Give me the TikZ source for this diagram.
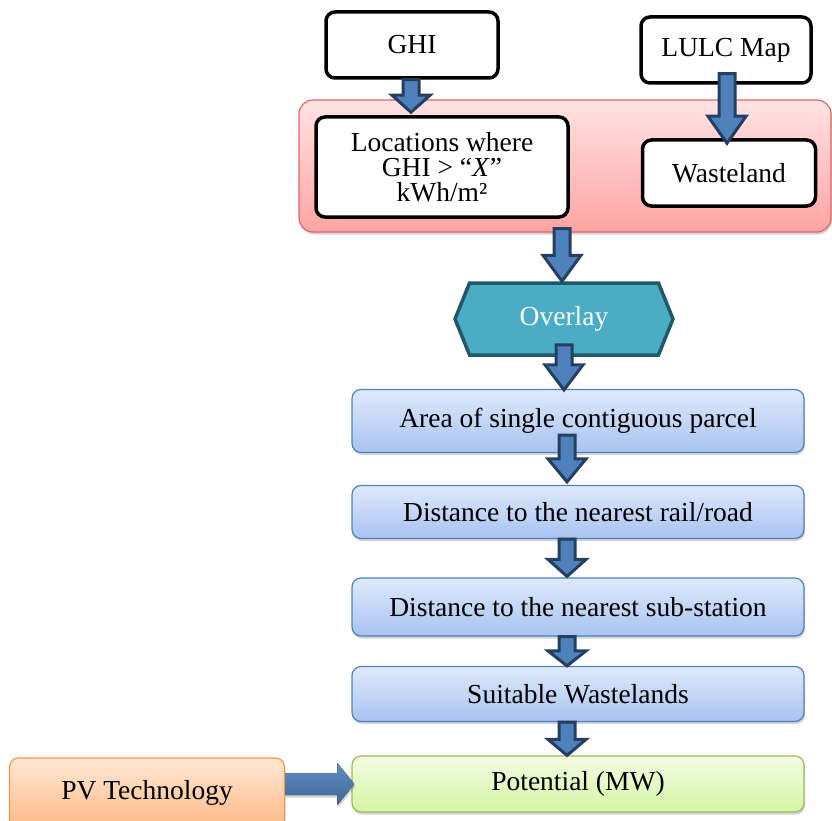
\documentclass[tikz,border=0pt]{standalone}
\usepackage{fontspec}
\setmainfont{Liberation Serif}
\usepackage{xcolor}
\usepackage{tikz}
\usetikzlibrary{calc}
\usetikzlibrary{shapes.symbols}
\usetikzlibrary{shadows}

\definecolor{boxblue}{HTML}{4F81BD}
\definecolor{stagetop}{HTML}{DFE9FB}
\definecolor{stagebottom}{HTML}{A7C3F1}
\definecolor{arrowline}{HTML}{243F60}
\definecolor{overlayfill}{HTML}{4BACC6}
\definecolor{overlayline}{HTML}{215968}
\definecolor{grouptop}{HTML}{FFE3E3}
\definecolor{groupbottom}{HTML}{FFA3A3}
\definecolor{groupline}{HTML}{E06666}
\definecolor{pottop}{HTML}{F4FCE4}
\definecolor{potbottom}{HTML}{D3F5A2}
\definecolor{potline}{HTML}{9BBB59}
\definecolor{pvtop}{HTML}{FFE8D5}
\definecolor{pvbottom}{HTML}{FDB985}
\definecolor{pvline}{HTML}{F79646}

\tikzset{
  inbox/.style={draw, rounded corners=9pt, line width=3.5pt, fill=white, align=center},
  groupbox/.style={draw=groupline, rounded corners=14pt, line width=1.2pt, top color=grouptop, bottom color=groupbottom, drop shadow={shadow xshift=1pt, shadow yshift=-2.5pt, opacity=0.35}},
  stagebox/.style={draw=boxblue, rounded corners=9pt, line width=1.2pt, top color=stagetop, bottom color=stagebottom, minimum width=452pt, drop shadow={shadow xshift=1pt, shadow yshift=-2.5pt, opacity=0.35}},
  flowarrow/.style={fill=boxblue, draw=arrowline, line width=3pt, line join=miter},
}

\newcommand{\flowarrow}[3]{%
  \filldraw[flowarrow] let \p1=#1, \p2=#2 in
    (\x1-8pt,\y1) -- (\x1+8pt,\y1) -- (\x1+8pt,\y2+#3) -- (\x1+19pt,\y2+#3)
    -- (\x1,\y2) -- (\x1-19pt,\y2+#3) -- (\x1-8pt,\y2+#3) -- cycle;}

\begin{document}
\begin{tikzpicture}[x=1pt, y=-1pt, font=\fontsize{27.5}{25}\selectfont]

\useasboundingbox (0,0) rectangle (832,821);

\node[groupbox, minimum width=532pt, minimum height=132pt] (grp) at (565,166) {};
\node[inbox, minimum width=172pt, minimum height=66pt] (ghi) at (412,45) {GHI};
\node[inbox, minimum width=170pt, minimum height=66pt] (lulc) at (726,50) {LULC Map};
\node[inbox, minimum width=252pt, minimum height=100pt] (loc) at (442,167) {Locations where\\GHI > “\textit{X}”\\kWh/m²};
\node[inbox, minimum width=173pt, minimum height=66pt] (waste) at (729,173) {Wasteland};

\node[signal, signal to=west and east, signal pointer angle=136, draw=overlayline, fill=overlayfill, line width=3.5pt, text=white, minimum width=218pt, minimum height=72pt, inner sep=0pt] (overlay) at (564,319) {Overlay};

\node[stagebox, minimum height=63pt] (area) at (578,421) {Area of single contiguous parcel};
\node[stagebox, minimum height=53pt] (rail) at (578,512) {Distance to the nearest rail/road};
\node[stagebox, minimum height=58pt] (sub) at (578,607) {Distance to the nearest sub-station};
\node[stagebox, minimum height=55pt] (suit) at (578,694) {Suitable Wastelands};
\node[stagebox, draw=potline, top color=pottop, bottom color=potbottom, minimum height=56pt] (pot) at (578,784) {Potential (MW)};
\node[draw=pvline, rounded corners=9pt, line width=1.2pt, top color=pvtop, bottom color=pvbottom, minimum width=275pt, minimum height=70pt, drop shadow={shadow xshift=1pt, shadow yshift=-2.5pt, opacity=0.35}] (pv) at (147,793) {PV Technology};

\flowarrow{([xshift=-1pt]ghi.south)}{([yshift=3pt]loc.north)}{17pt}
\flowarrow{([xshift=1pt, yshift=11pt]lulc.south)}{([yshift=-5pt]waste.north)}{27pt}
\flowarrow{([xshift=-3pt, yshift=4pt]grp.south)}{(overlay.north)}{26pt}
\flowarrow{([yshift=12pt]overlay.south)}{([yshift=-1pt]area.north)}{25pt}
\flowarrow{([xshift=-11pt, yshift=18pt]area.south)}{([yshift=3pt]rail.north)}{23pt}
\flowarrow{([xshift=-11pt]rail.south)}{([yshift=1pt]sub.north)}{17pt}
\flowarrow{([xshift=-11pt]sub.south)}{(suit.north)}{15pt}
\flowarrow{([xshift=-11pt]suit.south)}{(pot.north)}{16pt}

\fill[top color=boxblue!90!white, bottom color=boxblue!80!black, drop shadow={shadow xshift=1pt, shadow yshift=-2.5pt, opacity=0.35}] let \p1=(pv.east), \p2=([xshift=3pt]pot.west) in
  (\x1,\y2+11pt) -- (\x2-17pt,\y2+11pt) -- (\x2-17pt,\y2+21pt) -- (\x2,\y2)
  -- (\x2-17pt,\y2-21pt) -- (\x2-17pt,\y2-11pt) -- (\x1,\y2-11pt) -- cycle;

\end{tikzpicture}
\end{document}
